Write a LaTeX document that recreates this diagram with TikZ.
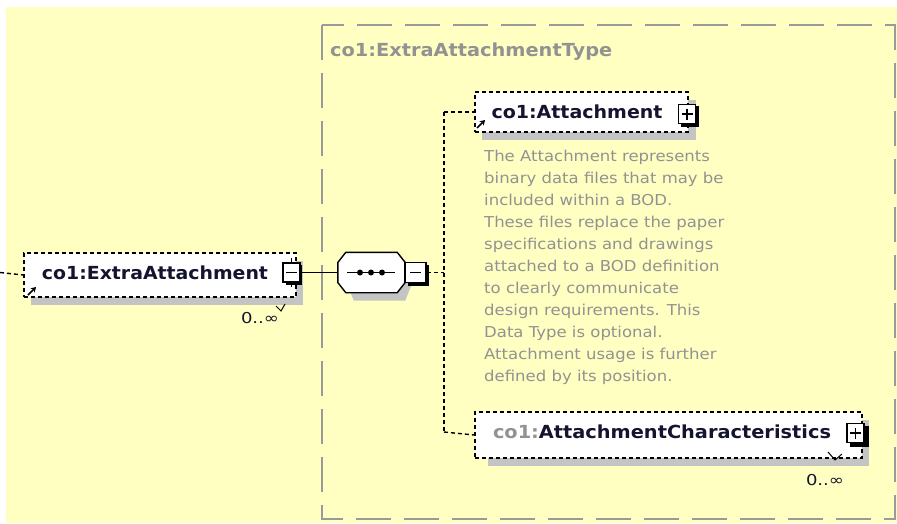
\documentclass[tikz,border=0pt]{standalone}
\usepackage{fontspec}
\usepackage{graphicx}
\setmainfont{DejaVu Sans}
\usetikzlibrary{arrows.meta}
\definecolor{bgy}{HTML}{FFFFC2}
\definecolor{framec}{HTML}{9A9A9A}
\definecolor{shad}{HTML}{C4C4C4}
\definecolor{docc}{HTML}{929292}
\definecolor{ink}{HTML}{141430}
\newcommand{\fitw}[2]{\resizebox{#1}{\height}{#2}}
\tikzset{
  elbox/.style={draw=black, fill=white, line width=1.4pt, dash pattern=on 4pt off 3pt, inner sep=0pt},
  eltext/.style={font=\fontsize{18}{20}\selectfont\bfseries, text=ink, inner sep=0pt},
  titletext/.style={font=\fontsize{18}{20}\selectfont\bfseries, text=docc, inner sep=0pt, anchor=west},
  doctext/.style={font=\fontsize{15}{22}\selectfont, text=docc, inner sep=0pt, anchor=north west, align=left},
  cardtext/.style={font=\fontsize{15}{16}\selectfont, text=ink, inner sep=0pt},
  iconbox/.style={draw=black, fill=white, line width=1.4pt, minimum width=17pt, minimum height=19pt, inner sep=0pt},
  conn/.style={draw=black, line width=1.4pt},
  dconn/.style={draw=black, line width=1.4pt, dash pattern=on 4pt off 3pt},
  shadowc/.style={fill=shad},
  refarrow/.style={draw=black, line width=1.6pt, -{Stealth[length=5pt,width=6pt]}}
}
\begin{document}
\begin{tikzpicture}[x=1pt,y=-1pt]
\useasboundingbox (0,0) rectangle (897,523);
\fill[white] (0,0) rectangle (897,523);
\fill[bgy] (6,7) rectangle (897,523);
% type frame
\draw[framec, line width=2pt, dash pattern=on 35pt off 13pt] (322,25) rectangle (895,519);
\node[titletext] (ttl) at (330,52) {\fitw{282pt}{co1:ExtraAttachmentType}};

% ---------- ExtraAttachment ----------
\fill[shadowc] (31,261) rectangle (303,305);
\node[elbox, minimum width=272pt, minimum height=44pt] (ea) at (160,275) {};
\node[eltext] (eat) at (155,272.5) {\fitw{226pt}{co1:ExtraAttachment}};
\draw[refarrow] (28,295) -- (36,287);
\fill[black] (286,265) rectangle (302,285);
\node[iconbox] (eam) at (291.5,272.5) {};
\draw[black, line width=1.4pt] (286,272.5) -- (297,272.5);
\draw[black, line width=1.4pt] (eam.north) -- ++(0,-4);
\draw[black, line width=1.4pt] (eam.south) -- ++(0,4);
\draw[black, line width=1pt] (276,306) -- (281,311) -- (285,304);
\node[cardtext] (eac) at (260,318) {\fitw{38pt}{0..∞}};
\draw[dconn] (0,272.5) -- (ea.west);

% ---------- sequence ----------
\node[minimum width=67pt, minimum height=40pt, inner sep=0pt] (seq) at (371.5,272.5) {};
\fill[shadowc] ([shift={(8,8)}]seq.west) -- ([shift={(16,8)}]seq.north west) -- ([shift={(0,8)}]seq.north east) -- ([shift={(8,8)}]seq.east)
   -- ([shift={(0,8)}]seq.south east) -- ([shift={(16,8)}]seq.south west) -- cycle;
\draw[black, fill=white, line width=1.4pt] ([shift={(0,-10)}]seq.west) -- ([shift={(8,0)}]seq.north west) -- ([shift={(-8,0)}]seq.north east) -- ([shift={(0,-10)}]seq.east)
   -- ([shift={(0,10)}]seq.east) -- ([shift={(-8,0)}]seq.south east) -- ([shift={(8,0)}]seq.south west) -- ([shift={(0,10)}]seq.west) -- cycle;
\draw[black, line width=1.4pt] (347,272.5) -- (395,272.5);
\foreach \dx in {360,371,382} \fill[black] (\dx,272.5) circle (3pt);
\fill[black] (408,265) rectangle (429,286);
\node[iconbox, minimum width=21pt, minimum height=20pt] (sqm) at (415.5,272.5) {};
\draw[black, line width=1.4pt] (410,272.5) -- (421,272.5);
\draw[conn] (eam.east) -- (seq.west);

% ---------- trunk ----------
\coordinate (tj) at (444,272.5);
\coordinate (tt) at (444,112);
\coordinate (tb) at (444,432);
\draw[dconn] (sqm.east) -- (tj);
\draw[dconn] (tt) -- (tb);

% ---------- Attachment ----------
\fill[shadowc] (482,100) rectangle (696,140);
\node[elbox, minimum width=213pt, minimum height=40pt] (att) at (581.5,112) {};
\node[eltext] (attt) at (577,112) {\fitw{171pt}{co1:Attachment}};
\draw[refarrow] (477,128) -- (485,120);
\fill[black] (681,106) rectangle (699,127);
\node[iconbox] (atm) at (687,114) {};
\draw[black, line width=1.4pt] (681.5,114) -- (692.5,114);
\draw[black, line width=1.4pt] (687,108.5) -- (687,119.5);
\draw[dconn] (tt) -- (att.west);
\node[doctext] (doc) at (484,150) {\scalebox{1.1}[1]{\parbox[t]{240pt}{\raggedright\fontsize{15}{22}\selectfont The Attachment represents\\binary data files that may be\\included within a BOD.\\These files replace the paper\\specifications and drawings\\attached to a BOD definition\\to clearly communicate\\design requirements. This\\Data Type is optional.\\Attachment usage is further\\defined by its position.}}};

% ---------- AttachmentCharacteristics ----------
\fill[shadowc] (488,420) rectangle (869,466);
\node[elbox, minimum width=387pt, minimum height=46pt] (ac) at (668.5,435) {};
\node[eltext] (act) at (662,432) {\fitw{338pt}{\textcolor{docc}{co1:}AttachmentCharacteristics}};
\fill[black] (850,426) rectangle (869,447);
\node[iconbox] (acm) at (855.5,433) {};
\draw[black, line width=1.4pt] (850,433) -- (861,433);
\draw[black, line width=1.4pt] (855.5,427.5) -- (855.5,438.5);
\draw[black, line width=1pt] (828,452) -- (835,460) -- (842,454);
\node[cardtext] (acc) at (825,480) {\fitw{38pt}{0..∞}};
\draw[dconn] (tb) -- (ac.west);
\end{tikzpicture}
\end{document}
